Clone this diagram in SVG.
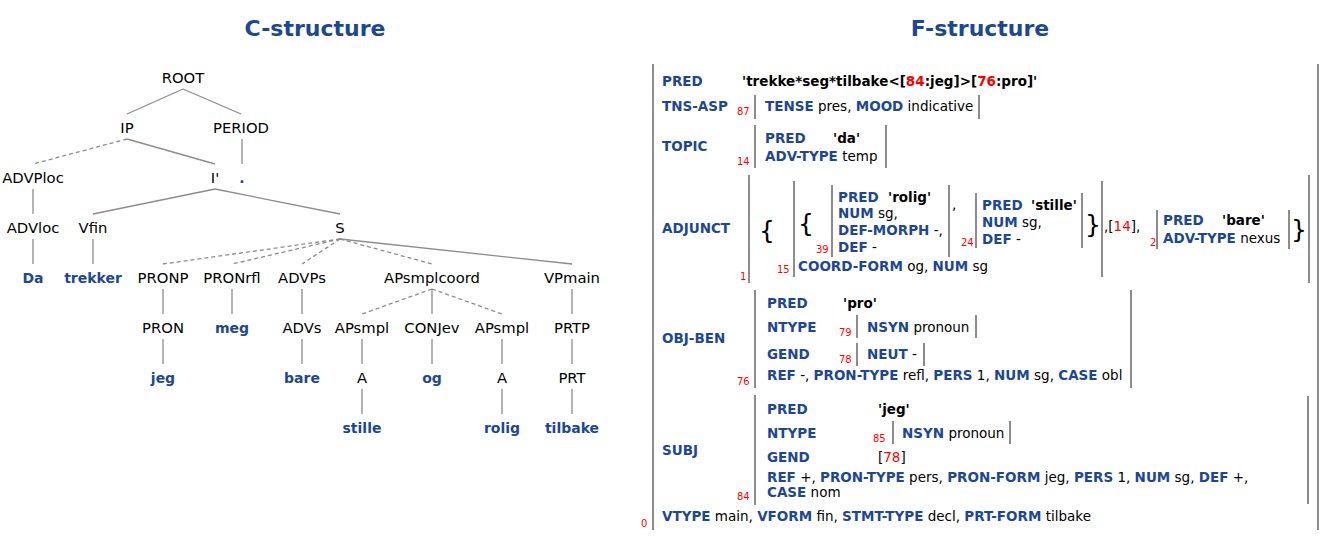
<svg xmlns="http://www.w3.org/2000/svg" width="1323" height="553" viewBox="0 0 1323 553">
<style>
text{font-family:"DejaVu Sans",Verdana,sans-serif}
.title{font-size:22px;font-weight:bold;fill:#1c4796;text-anchor:middle}
.n{font-size:14.8px;fill:#000;text-anchor:middle}
.w{font-size:14px;fill:#1c4796;font-weight:bold;text-anchor:middle}
.e{stroke:#8c8c8c;stroke-width:1.3;fill:none}
.d{stroke-dasharray:4 3}
.f{font-size:13.5px;fill:#000}
.a{font-weight:bold;fill:#1c4796}
.p{font-weight:bold;fill:#000}
.r{fill:#f00}
.i{font-size:10px;fill:#f00}
.b{stroke:#8c8c8c;stroke-width:2;fill:none}
.br{font-size:25px;fill:#000}
</style>
<text class="title" x="315" y="36">C-structure</text>
<text class="title" x="980" y="36">F-structure</text>

<g id="connectors">
<line class="e" x1="183" y1="89" x2="127" y2="114"/>
<line class="e" x1="183" y1="89" x2="241" y2="114"/>
<line class="e d" x1="127" y1="139" x2="33" y2="164"/>
<line class="e" x1="127" y1="139" x2="215" y2="164"/>
<line class="e" x1="242" y1="139" x2="242" y2="164"/>
<line class="e" x1="33" y1="189" x2="33" y2="214"/>
<line class="e" x1="33" y1="239" x2="33" y2="264"/>
<line class="e" x1="215" y1="189" x2="93" y2="214"/>
<line class="e" x1="215" y1="189" x2="340" y2="214"/>
<line class="e" x1="93" y1="239" x2="93" y2="264"/>
<line class="e d" x1="340" y1="239" x2="163" y2="264"/>
<line class="e d" x1="340" y1="239" x2="232" y2="264"/>
<line class="e d" x1="340" y1="239" x2="302" y2="264"/>
<line class="e d" x1="340" y1="239" x2="432" y2="264"/>
<line class="e" x1="340" y1="239" x2="572" y2="264"/>
<line class="e" x1="163" y1="289" x2="163" y2="314"/>
<line class="e" x1="163" y1="339" x2="163" y2="364"/>
<line class="e" x1="232" y1="289" x2="232" y2="314"/>
<line class="e" x1="302" y1="289" x2="302" y2="314"/>
<line class="e" x1="302" y1="339" x2="302" y2="364"/>
<line class="e d" x1="432" y1="289" x2="362" y2="314"/>
<line class="e" x1="432" y1="289" x2="432" y2="314"/>
<line class="e d" x1="432" y1="289" x2="502" y2="314"/>
<line class="e" x1="362" y1="339" x2="362" y2="364"/>
<line class="e" x1="362" y1="389" x2="362" y2="414"/>
<line class="e" x1="432" y1="339" x2="432" y2="364"/>
<line class="e" x1="502" y1="339" x2="502" y2="364"/>
<line class="e" x1="502" y1="389" x2="502" y2="414"/>
<line class="e" x1="572" y1="289" x2="572" y2="314"/>
<line class="e" x1="572" y1="339" x2="572" y2="364"/>
<line class="e" x1="572" y1="389" x2="572" y2="414"/>
</g>

<g id="n-root"><text class="n" x="183" y="83">ROOT</text></g>
<g id="n-ip"><text class="n" x="127" y="133">IP</text></g>
<g id="n-period"><text class="n" x="241" y="133">PERIOD</text></g>
<g id="n-advploc"><text class="n" x="33" y="183">ADVPloc</text></g>
<g id="n-ibar"><text class="n" x="215" y="183">I'</text></g>
<g id="n-dot"><text class="w" x="242" y="183">.</text></g>
<g id="n-advloc"><text class="n" x="33" y="233">ADVloc</text></g>
<g id="n-vfin"><text class="n" x="93" y="233">Vfin</text></g>
<g id="n-s"><text class="n" x="340" y="233">S</text></g>
<g id="n-da"><text class="w" x="33" y="283">Da</text></g>
<g id="n-trekker"><text class="w" x="93" y="283">trekker</text></g>
<g id="n-pronp"><text class="n" x="163" y="283">PRONP</text></g>
<g id="n-pronrfl"><text class="n" x="232" y="283">PRONrfl</text></g>
<g id="n-advps"><text class="n" x="302" y="283">ADVPs</text></g>
<g id="n-apsmplcoord"><text class="n" x="432" y="283">APsmplcoord</text></g>
<g id="n-vpmain"><text class="n" x="572" y="283">VPmain</text></g>
<g id="n-pron"><text class="n" x="163" y="333">PRON</text></g>
<g id="n-meg"><text class="w" x="232" y="333">meg</text></g>
<g id="n-advs"><text class="n" x="302" y="333">ADVs</text></g>
<g id="n-apsmpl1"><text class="n" x="362" y="333">APsmpl</text></g>
<g id="n-conjev"><text class="n" x="432" y="333">CONJev</text></g>
<g id="n-apsmpl2"><text class="n" x="502" y="333">APsmpl</text></g>
<g id="n-prtp"><text class="n" x="572" y="333">PRTP</text></g>
<g id="n-jeg"><text class="w" x="163" y="383">jeg</text></g>
<g id="n-bare"><text class="w" x="302" y="383">bare</text></g>
<g id="n-a1"><text class="n" x="362" y="383">A</text></g>
<g id="n-og"><text class="w" x="432" y="383">og</text></g>
<g id="n-a2"><text class="n" x="502" y="383">A</text></g>
<g id="n-prt"><text class="n" x="572" y="383">PRT</text></g>
<g id="n-stille"><text class="w" x="362" y="433">stille</text></g>
<g id="n-rolig"><text class="w" x="502" y="433">rolig</text></g>
<g id="n-tilbake"><text class="w" x="572" y="433">tilbake</text></g>

<g id="fstructure" class="f">
<line class="b" x1="653" y1="64" x2="653" y2="530"/>
<line class="b" x1="1318" y1="64" x2="1318" y2="530"/>
<text x="662" y="86" class="a">PRED</text>
<text x="742" y="86" class="p">'trekke*seg*tilbake&lt;[<tspan class="r">84</tspan>:jeg]&gt;[<tspan class="r">76</tspan>:pro]'</text>

<text x="662" y="111" class="a">TNS-ASP</text>
<text x="737" y="115" class="i">87</text>
<line class="b" x1="755" y1="95" x2="755" y2="119"/>
<text x="765" y="111"><tspan class="a">TENSE</tspan> pres, <tspan class="a">MOOD</tspan> indicative</text>
<line class="b" x1="979" y1="95" x2="979" y2="119"/>

<text x="662" y="151" class="a">TOPIC</text>
<text x="737" y="165" class="i">14</text>
<line class="b" x1="755" y1="125" x2="755" y2="168"/>
<text x="765" y="143" class="a">PRED</text>
<text x="833" y="143" class="p">'da'</text>
<text x="765" y="161"><tspan class="a">ADV-TYPE</tspan> temp</text>
<line class="b" x1="886" y1="125" x2="886" y2="168"/>

<text x="662" y="233" class="a">ADJUNCT</text>
<text x="740" y="280" class="i">1</text>
<line class="b" x1="749" y1="175" x2="749" y2="283"/>
<text x="759" y="239" class="br">{</text>
<text x="777" y="273" class="i">15</text>
<line class="b" x1="794" y1="181" x2="794" y2="277"/>
<text x="798" y="232" class="br">{</text>
<text x="816" y="253" class="i">39</text>
<line class="b" x1="832" y1="185" x2="832" y2="257"/>
<text x="838" y="202" class="a">PRED</text>
<text x="888" y="202" class="p">'rolig'</text>
<text x="838" y="218"><tspan class="a">NUM</tspan> sg,</text>
<text x="838" y="235"><tspan class="a">DEF-MORPH</tspan> -,</text>
<text x="838" y="252"><tspan class="a">DEF</tspan> -</text>
<line class="b" x1="949" y1="185" x2="949" y2="257"/>
<text x="952" y="209">,</text>
<text x="961" y="246" class="i">24</text>
<line class="b" x1="976" y1="193" x2="976" y2="248"/>
<text x="982" y="210" class="a">PRED</text>
<text x="1031" y="210" class="p">'stille'</text>
<text x="982" y="227"><tspan class="a">NUM</tspan> sg,</text>
<text x="982" y="244"><tspan class="a">DEF</tspan> -</text>
<line class="b" x1="1082" y1="193" x2="1082" y2="248"/>
<text x="1085" y="233" class="br">}</text>
<line class="b" x1="1102" y1="181" x2="1102" y2="277"/>
<text x="798" y="271"><tspan class="a">COORD-FORM</tspan> og, <tspan class="a">NUM</tspan> sg</text>
<text x="1104" y="231">,[<tspan class="r">14</tspan>],</text>
<text x="1150" y="246" class="i">2</text>
<line class="b" x1="1157" y1="210" x2="1157" y2="249"/>
<text x="1163" y="225" class="a">PRED</text>
<text x="1222" y="225" class="p">'bare'</text>
<text x="1163" y="243"><tspan class="a">ADV-TYPE</tspan> nexus</text>
<line class="b" x1="1289" y1="210" x2="1289" y2="249"/>
<text x="1291" y="238" class="br">}</text>
<line class="b" x1="1309" y1="175" x2="1309" y2="283"/>

<text x="662" y="343" class="a">OBJ-BEN</text>
<text x="737" y="385" class="i">76</text>
<line class="b" x1="755" y1="290" x2="755" y2="388"/>
<text x="767" y="308" class="a">PRED</text>
<text x="843" y="308" class="p">'pro'</text>
<text x="767" y="332" class="a">NTYPE</text>
<text x="839" y="336" class="i">79</text>
<line class="b" x1="857" y1="315" x2="857" y2="338"/>
<text x="867" y="332"><tspan class="a">NSYN</tspan> pronoun</text>
<line class="b" x1="976" y1="315" x2="976" y2="338"/>
<text x="767" y="359" class="a">GEND</text>
<text x="839" y="363" class="i">78</text>
<line class="b" x1="857" y1="343" x2="857" y2="366"/>
<text x="867" y="359"><tspan class="a">NEUT</tspan> -</text>
<line class="b" x1="924" y1="343" x2="924" y2="366"/>
<text x="767" y="380"><tspan class="a">REF</tspan> -, <tspan class="a">PRON-TYPE</tspan> refl, <tspan class="a">PERS</tspan> 1, <tspan class="a">NUM</tspan> sg, <tspan class="a">CASE</tspan> obl</text>
<line class="b" x1="1131" y1="290" x2="1131" y2="388"/>

<text x="662" y="455" class="a">SUBJ</text>
<text x="737" y="500" class="i">84</text>
<line class="b" x1="755" y1="395" x2="755" y2="505"/>
<text x="767" y="414" class="a">PRED</text>
<text x="878" y="414" class="p">'jeg'</text>
<text x="767" y="438" class="a">NTYPE</text>
<text x="873" y="442" class="i">85</text>
<line class="b" x1="893" y1="421" x2="893" y2="444"/>
<text x="902" y="438"><tspan class="a">NSYN</tspan> pronoun</text>
<line class="b" x1="1010" y1="421" x2="1010" y2="444"/>
<text x="767" y="462" class="a">GEND</text>
<text x="878" y="462">[<tspan class="r">78</tspan>]</text>
<text x="767" y="482"><tspan class="a">REF</tspan> +, <tspan class="a">PRON-TYPE</tspan> pers, <tspan class="a">PRON-FORM</tspan> jeg, <tspan class="a">PERS</tspan> 1, <tspan class="a">NUM</tspan> sg, <tspan class="a">DEF</tspan> +,</text>
<text x="767" y="497"><tspan class="a">CASE</tspan> nom</text>
<line class="b" x1="1308" y1="396" x2="1308" y2="504"/>

<text x="641" y="527" class="i">0</text>
<text x="662" y="521"><tspan class="a">VTYPE</tspan> main, <tspan class="a">VFORM</tspan> fin, <tspan class="a">STMT-TYPE</tspan> decl, <tspan class="a">PRT-FORM</tspan> tilbake</text>
</g>
</svg>
